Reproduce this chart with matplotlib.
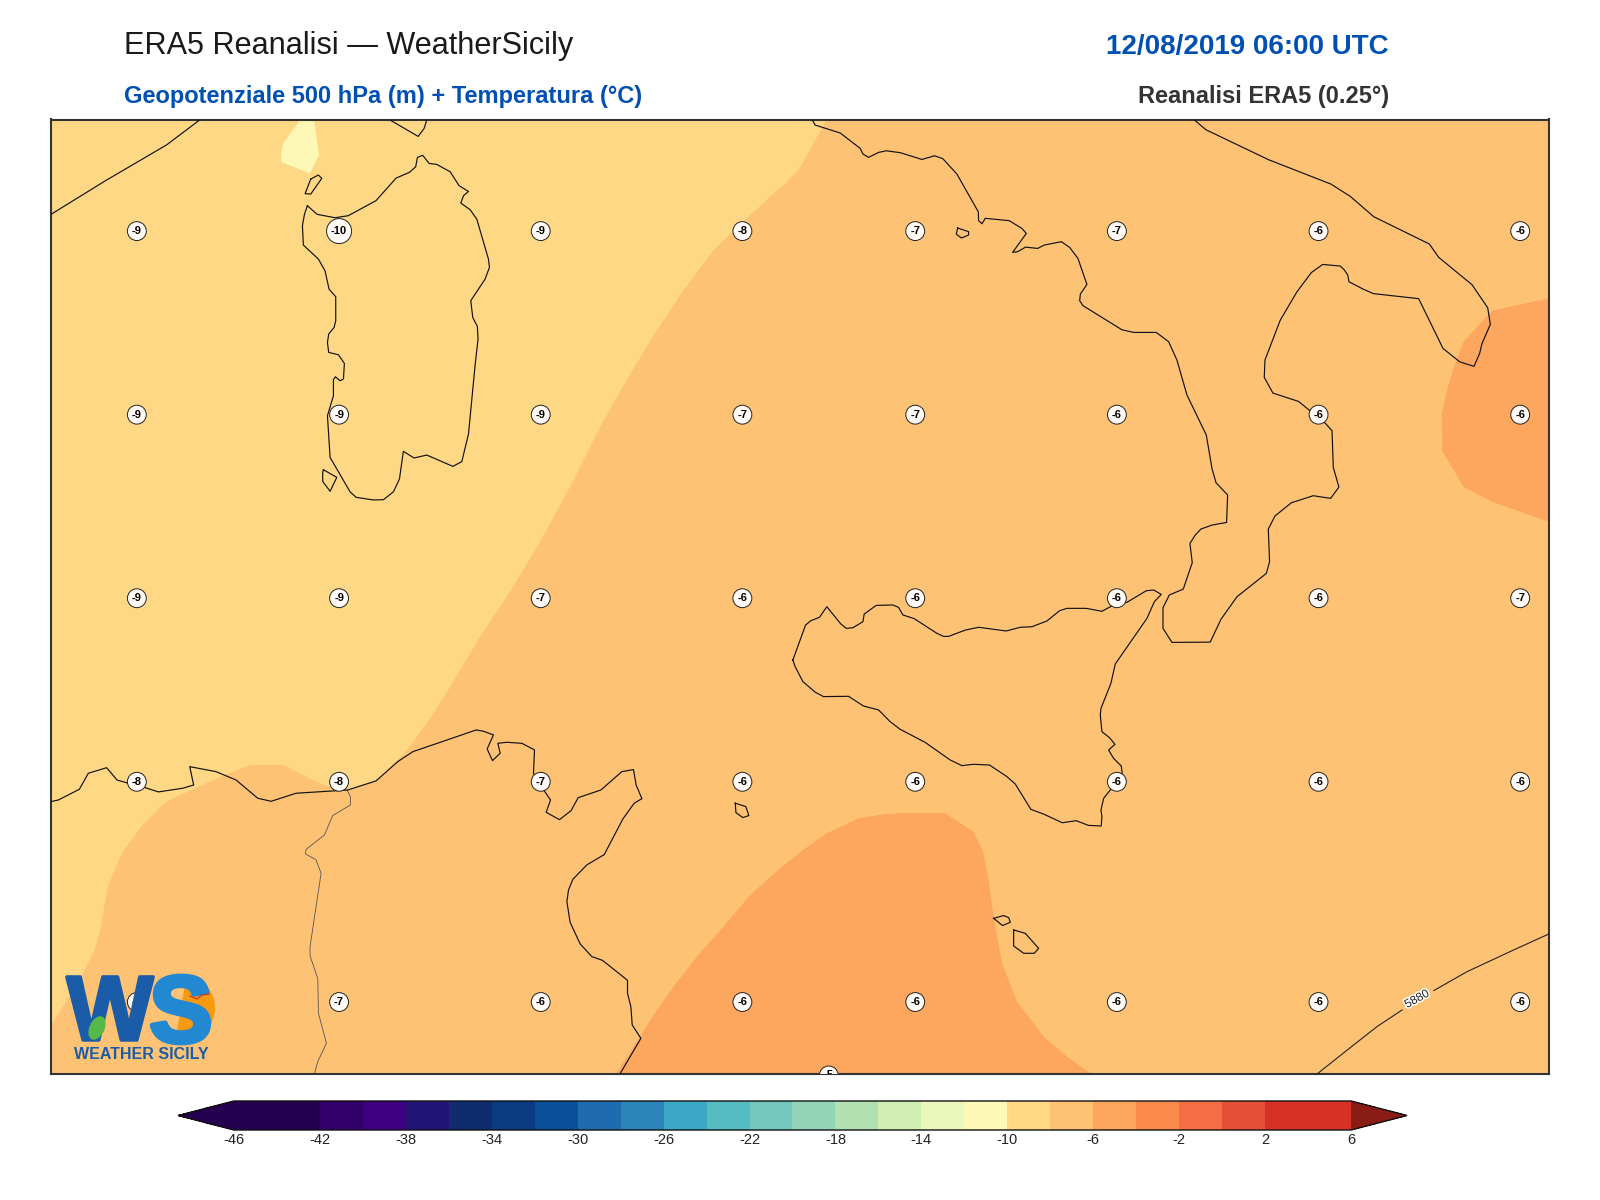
import numpy as np
import matplotlib
matplotlib.use('Agg')
import matplotlib.pyplot as plt
import matplotlib.patheffects as pe
from matplotlib.colors import BoundaryNorm, ListedColormap
from matplotlib.cm import ScalarMappable
from matplotlib.patches import Ellipse, Wedge

plt.rcParams['font.family'] = ['Liberation Sans', 'DejaVu Sans']
plt.rcParams['axes.unicode_minus'] = False

# temperature bands
levels = np.arange(-46, 8, 2)
band_colors = ['#25004f', '#25004f', '#33006b', '#3d0080', '#221475', '#0f2c6e',
               '#0a3a80', '#0a4f9a', '#1f6bb0', '#2b85b8', '#3aa8c5', '#55bcc2',
               '#72c8bc', '#94d4b9', '#b2e0b0', '#d0edb3', '#ebf7bb', '#fdf8b5',
               '#fed884', '#fdc274', '#fda65d', '#f98a4c', '#f46d43', '#e54f35',
               '#d73027', '#d73027']
under_color = '#25004f'
over_color = '#8a1c16'
cbar_ticks = np.arange(-46, 10, 4)

# station temperatures
grid_lons = [6.745, 8.5, 10.25, 12.0, 13.5, 15.25, 17.0, 18.75]
grid_lats = [40.74, 39.49, 38.24, 36.99, 35.49]
temp_row1 = [-9, -10, -9, -8, -7, -7, -6, -6]
temp_row2 = [-9, -9, -9, -7, -7, -6, -6, -6]
temp_row3 = [-9, -9, -7, -6, -6, -6, -6, -7]
temp_row4 = [-8, -8, -7, -6, -6, -6, -6, -6]
temp_row5 = [-7, -7, -6, -6, -6, -6, -6, -6]
extra_lon, extra_lat, extra_temp = 12.75, 34.99, -5

# isotherm areas (lon, lat)
band10_lon = [6.0, 12.733, 12.598, 12.491, 12.376, 12.066, 11.756, 11.49, 11.225, 10.96, 10.738, 10.517,
              10.251, 9.985, 9.72, 9.454, 9.284, 9.067, 8.821, 8.575, 8.373, 8.242, 8.011, 7.736,
              7.505, 6.998, 6.796, 6.622, 6.492, 6.434, 6.38, 6.22, 6.0]
band10_lat = [41.5, 41.5, 41.312, 41.159, 41.069, 40.846, 40.616, 40.338, 40.025, 39.677, 39.364, 39.016,
              38.633, 38.285, 37.972, 37.624, 37.411, 37.184, 37.0, 36.934, 36.968, 37.014, 37.105, 37.105,
              37.036, 36.855, 36.696, 36.514, 36.276, 36.004, 35.845, 35.6, 35.334]
cold_lon = [8.167, 8.017, 7.994, 8.002, 8.248, 8.326, 8.283]
cold_lat = [41.503, 41.339, 41.265, 41.208, 41.133, 41.258, 41.503]
warm_south_lon = [10.905, 11.113, 11.229, 11.403, 11.605, 11.836, 12.068, 12.328, 12.525, 12.733, 13.008,
                  13.225, 13.37, 13.755, 14.006, 14.088, 14.137, 14.18, 14.253, 14.383, 14.614, 14.817, 15.03]
warm_south_lat = [35.0, 35.255, 35.402, 35.595, 35.799, 36.004, 36.219, 36.401, 36.525, 36.639, 36.741,
                  36.768, 36.777, 36.777, 36.65, 36.514, 36.322, 36.072, 35.754, 35.493, 35.255, 35.118, 35.0]
warm_east_lon = [19.0, 18.505, 18.259, 18.187, 18.115, 18.071, 18.074, 18.259, 18.505, 19.0]
warm_east_lat = [40.282, 40.198, 39.987, 39.839, 39.658, 39.499, 39.244, 38.999, 38.897, 38.761]

# geopotential line, gap where the label sits
z5880_lon = [16.987, 17.305, 17.508, 17.725, np.nan, 18.0, 18.289, 18.694, 19.0]
z5880_lat = [35.0, 35.198, 35.323, 35.436, np.nan, 35.568, 35.697, 35.845, 35.954]
z5880_label = (17.855, 35.509)

# coastlines
sardinia_lon = [8.225, 8.31, 8.465, 8.58, 8.82, 8.995, 9.11, 9.165, 9.18, 9.226, 9.281, 9.348, 9.464, 9.542,
                9.623, 9.58, 9.556, 9.637, 9.695, 9.796, 9.805, 9.767, 9.643, 9.66, 9.70, 9.706, 9.68, 9.623,
                9.565, 9.487, 9.261, 9.151, 9.058, 9.024, 8.972, 8.885, 8.798, 8.648, 8.595, 8.422, 8.399,
                8.451, 8.451, 8.468, 8.509, 8.538, 8.546, 8.494, 8.41, 8.399, 8.41, 8.457, 8.471, 8.471,
                8.413, 8.378, 8.32, 8.19, 8.182, 8.2, 8.225]
sardinia_lat = [40.913, 40.854, 40.831, 40.845, 40.947, 41.101, 41.14, 41.178, 41.242, 41.256, 41.201, 41.194,
                41.144, 41.049, 41.01, 40.981, 40.931, 40.886, 40.822, 40.55, 40.493, 40.413, 40.266, 40.152,
                40.091, 40.005, 39.823, 39.358, 39.17, 39.138, 39.215, 39.195, 39.24, 39.052, 38.965, 38.911,
                38.909, 38.927, 38.965, 39.199, 39.483, 39.619, 39.728, 39.748, 39.721, 39.733, 39.839, 39.898,
                39.914, 39.982, 40.039, 40.084, 40.13, 40.293, 40.345, 40.47, 40.55, 40.645, 40.777, 40.856, 40.913]
asinara_lon = [8.254, 8.32, 8.35, 8.254, 8.205, 8.254]
asinara_lat = [41.094, 41.122, 41.099, 40.992, 40.995, 41.094]
antioco_lon = [8.364, 8.48, 8.422, 8.358, 8.358, 8.364]
antioco_lat = [39.115, 39.063, 38.968, 39.036, 39.097, 39.115]
corsica_lon = [8.948, 9.186, 9.238, 9.27]
corsica_lat = [41.494, 41.385, 41.439, 41.52]
northwest_lon = [6.0, 6.468, 7.003, 7.282, 7.31]
northwest_lat = [40.854, 41.081, 41.327, 41.492, 41.52]

sicily_lon = [12.438, 12.548, 12.594, 12.669, 12.733, 12.855, 12.901, 12.959, 13.046, 13.057, 13.161, 13.306,
              13.355, 13.393, 13.491, 13.688, 13.746, 13.789, 13.934, 14.05, 14.29, 14.411, 14.513, 14.643,
              14.753, 14.816, 14.984, 15.12, 15.221, 15.337, 15.505, 15.569, 15.635, 15.575, 15.511, 15.236,
              15.198, 15.112, 15.106, 15.12, 15.187, 15.233, 15.178, 15.221, 15.288, 15.3, 15.192, 15.135,
              15.112, 15.12, 15.114, 15.004, 14.897, 14.776, 14.62, 14.504, 14.368, 14.296, 14.145, 14.006,
              13.905, 13.804, 13.587, 13.37, 13.283, 13.182, 13.051, 12.921, 12.704, 12.632, 12.525, 12.458, 12.438]
sicily_lat = [37.819, 38.057, 38.087, 38.11, 38.182, 38.064, 38.035, 38.039, 38.08, 38.132, 38.191, 38.194,
              38.178, 38.126, 38.101, 38.001, 37.98, 37.98, 38.023, 38.042, 38.017, 38.042, 38.046, 38.085,
              38.155, 38.171, 38.171, 38.151, 38.194, 38.212, 38.291, 38.296, 38.266, 38.216, 38.103, 37.792,
              37.66, 37.49, 37.445, 37.331, 37.29, 37.245, 37.206, 37.15, 37.097, 37.025, 36.934, 36.877,
              36.798, 36.752, 36.689, 36.693, 36.725, 36.711, 36.768, 36.802, 36.975, 37.025, 37.104, 37.109,
              37.1, 37.138, 37.258, 37.347, 37.399, 37.479, 37.506, 37.572, 37.57, 37.6, 37.672, 37.774, 37.819]

italy_lon = [12.59, 12.632, 12.849, 13.023, 13.046, 13.095, 13.182, 13.249, 13.37, 13.558, 13.668, 13.74, 13.862,
             14.047, 14.05, 14.079, 14.108, 14.316, 14.426, 14.464, 14.345, 14.389, 14.458, 14.562, 14.62, 14.768,
             14.84, 14.912, 14.99, 14.933, 14.927, 14.956, 15.294, 15.395, 15.592, 15.699, 15.771, 15.858, 16.026,
             16.075, 16.11, 16.211, 16.202, 16.075, 15.979, 15.93, 15.884, 15.904, 15.826, 15.705, 15.65, 15.65,
             15.728, 16.06, 16.153, 16.292, 16.547, 16.575, 16.564, 16.622, 16.764, 16.954, 17.105, 17.177, 17.128,
             17.117, 17.059, 16.827, 16.604, 16.529, 16.535, 16.668, 16.813, 16.937, 17.036, 17.189, 17.224, 17.253,
             17.264, 17.392, 17.478, 17.869, 18.08, 18.225, 18.349, 18.398, 18.419, 18.491, 18.468, 18.332, 18.043,
             17.962, 17.479, 17.276, 17.108, 16.567, 16.023, 15.93, 15.89]
italy_lat = [41.52, 41.462, 41.408, 41.303, 41.265, 41.242, 41.276, 41.287, 41.274, 41.228, 41.253, 41.233, 41.128,
             40.872, 40.811, 40.79, 40.827, 40.811, 40.758, 40.724, 40.595, 40.6, 40.631, 40.622, 40.645, 40.668,
             40.629, 40.554, 40.377, 40.311, 40.266, 40.232, 40.068, 40.05, 40.05, 39.987, 39.862, 39.624, 39.351,
             39.124, 39.027, 38.943, 38.756, 38.738, 38.711, 38.67, 38.613, 38.482, 38.302, 38.262, 38.175, 38.035,
             37.939, 37.941, 38.096, 38.25, 38.409, 38.488, 38.711, 38.8, 38.89, 38.938, 38.92, 38.997, 39.131,
             39.381, 39.431, 39.58, 39.637, 39.744, 39.862, 40.134, 40.327, 40.457, 40.513, 40.502, 40.475, 40.441,
             40.395, 40.343, 40.314, 40.28, 39.941, 39.85, 39.819, 39.907, 39.975, 40.105, 40.218, 40.375, 40.561,
             40.652, 40.838, 40.976, 41.06, 41.226, 41.43, 41.492, 41.52]

africa_lon = [6.0, 6.064, 6.246, 6.324, 6.483, 6.573, 6.671, 6.81, 6.932, 7.143, 7.238, 7.204, 7.432, 7.606, 7.794,
              7.91, 8.127, 8.575, 8.821, 9.009, 9.14, 9.69, 9.753, 9.84, 9.785, 9.831, 9.898, 9.878, 9.956, 10.086,
              10.196, 10.187, 10.245, 10.335, 10.297, 10.413, 10.514, 10.575, 10.772, 10.954, 11.055, 11.078, 11.128,
              11.061, 10.963, 10.801, 10.65, 10.529, 10.491, 10.477, 10.505, 10.592, 10.694, 10.786, 11.003, 11.003,
              11.032, 11.044, 11.119, 10.93]
africa_lat = [36.855, 36.866, 36.939, 37.048, 37.086, 37.002, 36.98, 36.952, 36.921, 36.946, 36.968, 37.093, 37.059,
              37.002, 36.878, 36.857, 36.912, 36.934, 36.996, 37.127, 37.195, 37.343, 37.334, 37.309, 37.214, 37.134,
              37.184, 37.252, 37.259, 37.252, 37.207, 37.048, 36.968, 36.866, 36.782, 36.732, 36.794, 36.882, 36.934,
              37.059, 37.073, 36.968, 36.875, 36.844, 36.737, 36.494, 36.424, 36.326, 36.253, 36.174, 36.033, 35.886,
              35.799, 35.774, 35.638, 35.55, 35.459, 35.334, 35.243, 34.99]
border_lon = [8.569, 8.598, 8.598, 8.445, 8.373, 8.214, 8.208, 8.30, 8.344, 8.248, 8.248, 8.315, 8.321, 8.39, 8.315, 8.286]
border_lat = [36.934, 36.889, 36.832, 36.76, 36.628, 36.53, 36.499, 36.458, 36.367, 35.867, 35.804, 35.652, 35.413, 35.209, 35.084, 35.0]

pantelleria_lon = [11.938, 12.03, 12.056, 12.004, 11.944, 11.938]
pantelleria_lat = [36.844, 36.821, 36.76, 36.746, 36.78, 36.844]
gozo_lon = [14.18, 14.267, 14.311, 14.325, 14.258, 14.18]
gozo_lat = [36.06, 36.079, 36.065, 36.033, 36.011, 36.06]
malta_lon = [14.354, 14.455, 14.571, 14.533, 14.441, 14.354, 14.354]
malta_lat = [35.981, 35.958, 35.856, 35.822, 35.822, 35.872, 35.981]
ischia_lon = [13.868, 13.963, 13.963, 13.9, 13.856, 13.868]
ischia_lat = [40.761, 40.736, 40.713, 40.693, 40.72, 40.761]

coasts = [(sardinia_lon, sardinia_lat), (asinara_lon, asinara_lat), (antioco_lon, antioco_lat),
          (corsica_lon, corsica_lat), (northwest_lon, northwest_lat), (sicily_lon, sicily_lat),
          (italy_lon, italy_lat), (africa_lon, africa_lat), (pantelleria_lon, pantelleria_lat),
          (gozo_lon, gozo_lat), (malta_lon, malta_lat), (ischia_lon, ischia_lat)]

W, H = 1600, 1200


def px_box(x0, y0, x1, y1):
    return [x0 / W, 1 - y1 / H, (x1 - x0) / W, (y1 - y0) / H]


fig = plt.figure(figsize=(16, 12), dpi=100)
ax = fig.add_axes(px_box(51, 119.5, 1549, 1074))
cmap = ListedColormap(band_colors).with_extremes(under=under_color, over=over_color)
norm = BoundaryNorm(levels, ncolors=len(band_colors))


def band(value):
    return cmap(norm(value))


ax.set_facecolor(band(-7))
ax.fill(band10_lon, band10_lat, color=band(-9), lw=0, zorder=1)
ax.fill(cold_lon, cold_lat, color=band(-11), lw=0, zorder=1.5)
ax.fill(warm_south_lon, warm_south_lat, color=band(-5), lw=0, zorder=1)
ax.fill(warm_east_lon, warm_east_lat, color=band(-5), lw=0, zorder=1)

ax.plot(border_lon, border_lat, color='#555555', lw=0.6, zorder=2)
for lon, lat in coasts:
    ax.plot(lon, lat, color='#111111', lw=0.85, zorder=3)

ax.plot(z5880_lon, z5880_lat, color='#222222', lw=0.8, zorder=3)
ax.text(z5880_label[0], z5880_label[1], '5880', fontsize=8.5, color='#222222', rotation=29,
        ha='center', va='center', zorder=4,
        path_effects=[pe.withStroke(linewidth=2.2, foreground='white')])

temp_rows = [temp_row1, temp_row2, temp_row3, temp_row4, temp_row5]
circle_box = dict(boxstyle='circle,pad=0.4', fc='#fffaf5', ec='#222222', lw=0.7)
for lat, row in zip(grid_lats, temp_rows):
    for lon, t in zip(grid_lons, row):
        ax.text(lon, lat, str(t), fontsize=8, fontweight='bold', color='black', ha='center', va='center',
                bbox=circle_box, zorder=5, clip_on=True)
ax.text(extra_lon, extra_lat, str(extra_temp), fontsize=8, fontweight='bold', color='black', ha='center',
        va='center', bbox=circle_box, zorder=5, clip_on=True)

ax.set_xlim(6, 19)
ax.set_ylim(35, 41.5)
ax.set_xticks([])
ax.set_yticks([])
for s in ax.spines.values():
    s.set_color('#333333')
    s.set_linewidth(1.5)

# colorbar, the axes includes both end arrows
cax = fig.add_axes(px_box(178, 1101, 1407, 1130))
sm = ScalarMappable(norm=norm, cmap=cmap)
cb = fig.colorbar(sm, cax=cax, orientation='horizontal', extend='both', extendfrac=0.05,
                  spacing='proportional', ticks=cbar_ticks)
cb.ax.set_xticklabels([str(t) for t in cbar_ticks])
cb.minorticks_off()
cb.ax.tick_params(length=0, labelsize=10.5, pad=2.5, labelcolor='#222222')
cb.outline.set_linewidth(1)
cb.outline.set_edgecolor('#111111')

# titles
fig.text(124 / W, 1 - 46 / H, 'ERA5 Reanalisi — WeatherSicily', fontsize=22.05, color='#1a1a1a', ha='left', va='center')
fig.text(124 / W, 1 - 96 / H, 'Geopotenziale 500 hPa (m) + Temperatura (°C)', fontsize=17, fontweight='bold',
         color='#0050b3', ha='left', va='center')
fig.text(1389 / W, 1 - 47 / H, '12/08/2019 06:00 UTC', fontsize=19.95, fontweight='bold', color='#0050b3',
         ha='right', va='center')
fig.text(1389 / W, 1 - 96 / H, 'Reanalisi ERA5 (0.25°)', fontsize=17, fontweight='bold', color='#333333',
         ha='right', va='center')

# logo, drawn in figure pixels
logo = fig.add_axes([0, 0, 1, 1], facecolor='none')
logo.set_xlim(0, W)
logo.set_ylim(H, 0)
logo.axis('off')
logo.add_patch(Wedge((181, 1008), 34, -80, 100, color='#f79a0e', lw=0, zorder=1))
fat_w = [pe.withStroke(linewidth=2.5, foreground='#1a5ca8')]
fat_s = [pe.withStroke(linewidth=3.5, foreground='#2288d2')]
logo.text(110, 1040, 'W', fontsize=66, fontweight='bold', color='#1a5ca8', ha='center', va='baseline', zorder=2,
          path_effects=fat_w)
logo.text(181, 1042, 'S', fontsize=68, fontweight='bold', color='#2288d2', ha='center', va='baseline', zorder=2,
          path_effects=fat_s)
logo.add_patch(Ellipse((97, 1028), 15, 25, angle=25, color='#55b848', lw=0, zorder=3))
logo.plot([190, 197, 202, 209], [996, 999, 995, 994], color='#c8352b', lw=0.9, zorder=3)
logo.text(141, 1059, 'WEATHER SICILY', fontsize=11.5, fontweight='bold', color='#1a5ca8', ha='center', va='baseline')

fig.savefig('out.png', dpi=100)
